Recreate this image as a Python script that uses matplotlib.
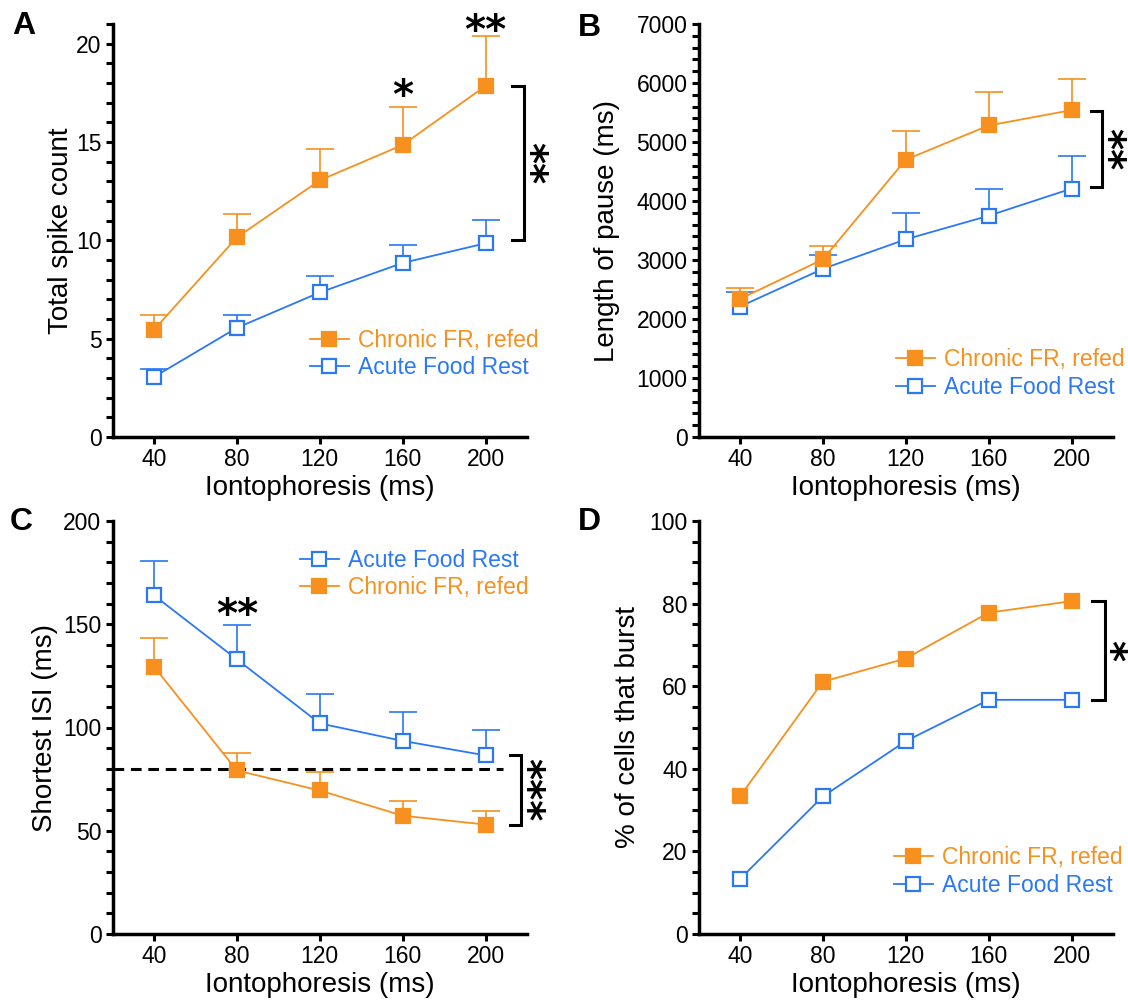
import numpy as np
import matplotlib
matplotlib.use("Agg")
import matplotlib.pyplot as plt
from matplotlib.ticker import MultipleLocator

# 図の見た目を調整
plt.rcParams['font.family'] = ['Liberation Sans', 'DejaVu Sans']
plt.rcParams['xtick.labelsize'] = 16.5
plt.rcParams['ytick.labelsize'] = 16.5
plt.rcParams['xtick.direction'] = 'out'
plt.rcParams['ytick.direction'] = 'out'
plt.rcParams['xtick.major.size'] = 5
plt.rcParams['ytick.major.size'] = 5
plt.rcParams['ytick.minor.size'] = 5
plt.rcParams['xtick.major.width'] = 2.2
plt.rcParams['ytick.major.width'] = 2.2
plt.rcParams['ytick.minor.width'] = 2.2
plt.rcParams['axes.linewidth'] = 2.5

ORANGE = '#F7901E'
BLUE = '#2A78F5'

# データ
ionto = [40, 80, 120, 160, 200]

# A: total spike count (mean, upper error)
spike_chronic = [5.45, 10.15, 13.05, 14.85, 17.85]
spike_chronic_err = [0.75, 1.2, 1.6, 1.95, 2.55]
spike_acute = [3.05, 5.55, 7.35, 8.85, 9.85]
spike_acute_err = [0.4, 0.65, 0.85, 0.9, 1.2]

# B: length of pause (ms)
pause_chronic = [2340, 3010, 4700, 5280, 5540]
pause_chronic_err = [180, 235, 480, 570, 535]
pause_acute = [2210, 2850, 3350, 3750, 4210]
pause_acute_err = [240, 240, 450, 450, 560]

# C: shortest ISI (ms)
isi_acute = [164, 133, 102, 93.5, 86.5]
isi_acute_err = [16.7, 16.7, 14, 13.8, 12.4]
isi_chronic = [129.5, 79.2, 69.5, 57.3, 53]
isi_chronic_err = [14, 8.3, 8.8, 6.9, 6.6]
isi_threshold = 80

# D: % of cells that burst
burst_chronic = [33.3, 61.1, 66.7, 77.8, 80.6]
burst_acute = [13.3, 33.3, 46.7, 56.7, 56.7]

W, H = 1128, 1001
fig = plt.figure(figsize=(W / 100, H / 100), dpi=100)

ax_w = 414.5 / W
ax_h = 413 / H
axA = fig.add_axes([112.5 / W, 1 - 437 / H, ax_w, ax_h])
axB = fig.add_axes([698.5 / W, 1 - 437 / H, ax_w, ax_h])
axC = fig.add_axes([112.5 / W, 1 - 934 / H, ax_w, ax_h])
axD = fig.add_axes([698.5 / W, 1 - 934 / H, ax_w, ax_h])


def series(ax, y, err, color, filled, label):
    if err is not None:
        eb = ax.errorbar(ionto, y, yerr=[np.zeros(len(err)), err], fmt='none',
                         ecolor=color, elinewidth=1.2, capsize=10,
                         capthick=1.2, zorder=2)
        eb[1][0].set_visible(False)  # 下側のキャップは描かない
    ax.plot(ionto, y, color=color, lw=1.3, marker='s', markersize=10.5,
            markerfacecolor=color if filled else 'white',
            markeredgecolor=color, markeredgewidth=1.6, label=label, zorder=3)


def style(ax, ymax, major, minor, ylabel, label_x):
    ax.set_xlim(20, 220)
    ax.set_ylim(0, ymax)
    ax.set_xticks(ionto)
    ax.yaxis.set_major_locator(MultipleLocator(major))
    ax.yaxis.set_minor_locator(MultipleLocator(minor))
    ax.spines['top'].set_visible(False)
    ax.spines['right'].set_visible(False)
    ax.tick_params(axis='y', pad=3)
    ax.tick_params(axis='x', pad=3)
    ax.set_xlabel('Iontophoresis (ms)', fontsize=20, labelpad=3)
    ax.set_ylabel(ylabel, fontsize=20, va='center')
    ax.yaxis.set_label_coords(label_x, 0.5)


def legend(ax, x0, y0, reverse):
    h, l = ax.get_legend_handles_labels()
    if reverse:
        h, l = h[::-1], l[::-1]
    ax.legend(h, l, loc='upper left', bbox_to_anchor=(x0, y0), frameon=False,
              fontsize=16.5, borderpad=0, borderaxespad=0,
              handlelength=1.7, handletextpad=0.4, labelspacing=0.2,
              labelcolor='linecolor')


def bracket(ax, x0, x1, ytop, ybot, stars):
    ax.plot([x0, x1, x1, x0], [ytop, ytop, ybot, ybot], color='black',
            lw=2.2, clip_on=False, solid_joinstyle='miter')
    ax.text(x1 + 2.0, (ytop + ybot) / 2, stars, rotation=270, fontsize=29,
            fontweight='bold', ha='center', va='center', family='DejaVu Sans',
            clip_on=False)


def stars_above(ax, x, y, stars):
    ax.text(x, y, stars, fontsize=29, fontweight='bold', ha='center',
            va='center', family='DejaVu Sans', clip_on=False)


# A
series(axA, spike_acute, spike_acute_err, BLUE, False, 'Acute Food Rest')
series(axA, spike_chronic, spike_chronic_err, ORANGE, True, 'Chronic FR, refed')
style(axA, 21, 5, 1, 'Total spike count', -0.125)
legend(axA, 0.476, 0.262, True)
bracket(axA, 212.6, 218.4, spike_chronic[-1], 10.0, '**')
stars_above(axA, 160, 17.3, '*')
stars_above(axA, 200, 20.6, '**')

# B
series(axB, pause_acute, pause_acute_err, BLUE, False, 'Acute Food Rest')
series(axB, pause_chronic, pause_chronic_err, ORANGE, True, 'Chronic FR, refed')
style(axB, 7000, 1000, 200, 'Length of pause (ms)', -0.221)
legend(axB, 0.476, 0.215, True)
bracket(axB, 209.5, 214.8, 5520, 4230, '**')

# C
axC.axhline(isi_threshold, xmax=0.943, color='black', lw=2.2,
            dashes=(3.5, 2.2), zorder=1)
series(axC, isi_acute, isi_acute_err, BLUE, False, 'Acute Food Rest')
series(axC, isi_chronic, isi_chronic_err, ORANGE, True, 'Chronic FR, refed')
style(axC, 200, 50, 10, 'Shortest ISI (ms)', -0.163)
legend(axC, 0.452, 0.933, False)
bracket(axC, 211.6, 217, isi_acute[-1], isi_chronic[-1], '***')
stars_above(axC, 80, 154, '**')

# D
series(axD, burst_acute, None, BLUE, False, 'Acute Food Rest')
series(axD, burst_chronic, None, ORANGE, True, 'Chronic FR, refed')
style(axD, 100, 20, 5, '% of cells that burst', -0.170)
legend(axD, 0.471, 0.213, True)
bracket(axD, 209.8, 215.9, burst_chronic[-1], burst_acute[-1], '*')

# パネル記号
for letter, x, y in [('A', 12, 11), ('B', 578, 13), ('C', 10, 507), ('D', 578, 507)]:
    fig.text(x / W, 1 - y / H, letter, fontsize=23, fontweight='bold',
             ha='left', va='top')

fig.savefig('out.png', dpi=100)
